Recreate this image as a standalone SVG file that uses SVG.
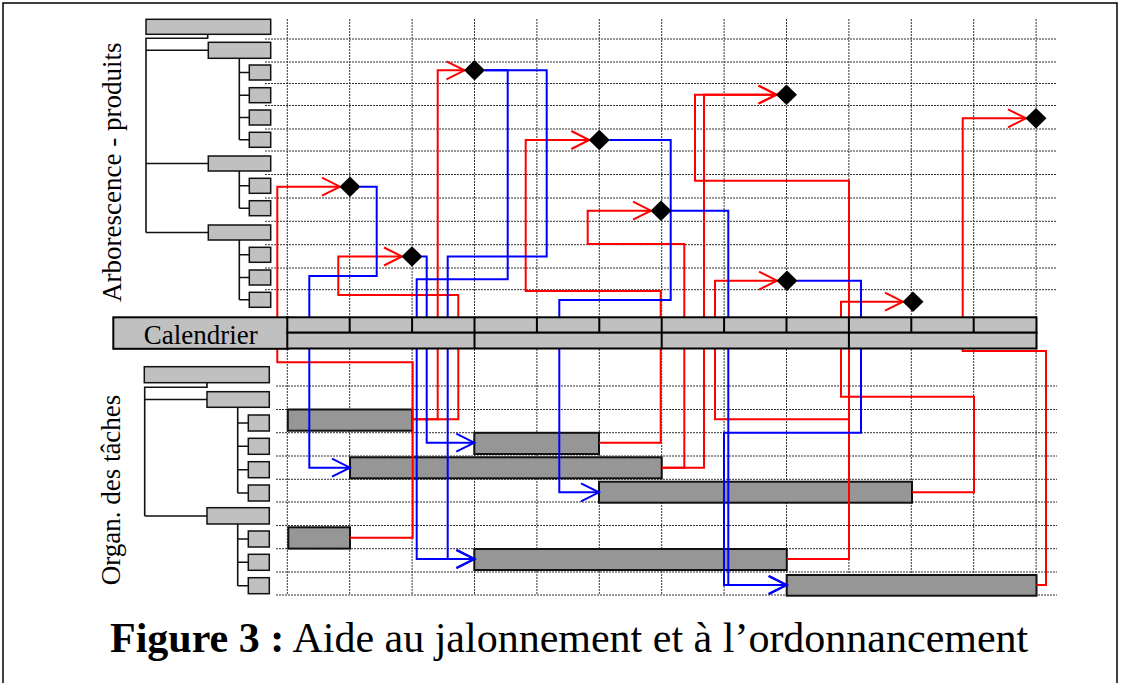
<svg xmlns="http://www.w3.org/2000/svg" width="1121" height="683" viewBox="0 0 1121 683">
<style>
.grid{stroke:#333;stroke-width:1;stroke-dasharray:2 1;fill:none}
.box{fill:#c0c0c0;stroke:#111;stroke-width:1.5}
.bar{fill:#969696;stroke:#111;stroke-width:2}
.tree{stroke:#111;stroke-width:1.6;fill:none}
.red{stroke:#ff0000;stroke-width:2;fill:none;marker-end:url(#ar)}
.blue{stroke:#0000ff;stroke-width:2;fill:none;marker-end:url(#ab)}
.dia{fill:#000}
.cal{fill:#c0c0c0;stroke:#000;stroke-width:2}
.lbl{font-family:"Liberation Serif","Times New Roman",serif;font-size:27px;fill:#000}
</style>
<defs>
<marker id="ar" markerUnits="userSpaceOnUse" markerWidth="24" markerHeight="24" viewBox="-20 -12 24 24" refX="0" refY="0" orient="auto" overflow="visible">
<path d="M-18,-9 L0,0 L-18,9" fill="none" stroke="#ff0000" stroke-width="2"/>
</marker>
<marker id="ab" markerUnits="userSpaceOnUse" markerWidth="24" markerHeight="24" viewBox="-20 -12 24 24" refX="0" refY="0" orient="auto" overflow="visible">
<path d="M-18,-9 L0,0 L-18,9" fill="none" stroke="#0000ff" stroke-width="2"/>
</marker>
</defs>
<rect x="0" y="0" width="1121" height="683" fill="#fff"/>
<rect x="3" y="3" width="1114" height="700" fill="none" stroke="#000" stroke-width="1.5"/>

<g id="grid">
<path class="grid" d="M287.3,19V317M349.7,19V317M412.1,19V317M474.5,19V317M536.9,19V317M599.3,19V317M661.7,19V317M724.1,19V317M786.5,19V317M848.9,19V317M911.3,19V317M973.7,19V317M1036.1,19V317"/>
<path class="grid" d="M287.3,349V595M349.7,349V595M412.1,349V595M474.5,349V595M536.9,349V595M599.3,349V595M661.7,349V595M724.1,349V595M786.5,349V595M848.9,349V595M911.3,349V595M973.7,349V595M1036.1,349V595"/>
<path class="grid" d="M265,39H1057M265,62H1057M265,83.5H1057M265,105.5H1057M265,129H1057M265,151H1057M265,174.5H1057M265,198H1057M265,221.3H1057M265,244.7H1057M265,268H1057M265,289.7H1057"/>
<path class="grid" d="M276,386H1057M276,409.5H1057M276,432.7H1057M276,456H1057M276,479.3H1057M276,502H1057M276,525.5H1057M276,548.7H1057M276,572H1057M276,595H1057"/>
</g>

<g id="tree-top-links">
<path class="tree" d="M207.7,34.3V38.3H146V232.5M146,50.3H208.3M146,163.5H208.3M146,232.5H208.3"/>
<path class="tree" d="M239.3,58.3V139.8M239.3,72.5H249.3M239.3,95.2H249.3M239.3,117.5H249.3M239.3,139.8H249.3"/>
<path class="tree" d="M239.3,171V208.2M239.3,185.8H249.3M239.3,208.2H249.3"/>
<path class="tree" d="M239.3,240V299.8M239.3,254.8H249.3M239.3,277.5H249.3M239.3,299.8H249.3"/>
</g>
<g id="tree-top">
<rect id="p-root" class="box" x="146" y="19.3" width="124.7" height="15"/>
<rect id="p-a" class="box" x="208.3" y="42.3" width="62.4" height="16"/>
<rect id="p-a1" class="box" x="249.3" y="65" width="21.4" height="15"/>
<rect id="p-a2" class="box" x="249.3" y="87.7" width="21.4" height="15"/>
<rect id="p-a3" class="box" x="249.3" y="110" width="21.4" height="15"/>
<rect id="p-a4" class="box" x="249.3" y="132.3" width="21.4" height="15"/>
<rect id="p-b" class="box" x="208.3" y="156" width="62.4" height="15"/>
<rect id="p-b1" class="box" x="249.3" y="178.3" width="21.4" height="15"/>
<rect id="p-b2" class="box" x="249.3" y="200.7" width="21.4" height="15"/>
<rect id="p-c" class="box" x="208.3" y="225" width="62.4" height="15"/>
<rect id="p-c1" class="box" x="249.3" y="247.3" width="21.4" height="15"/>
<rect id="p-c2" class="box" x="249.3" y="270" width="21.4" height="15"/>
<rect id="p-c3" class="box" x="249.3" y="292.3" width="21.4" height="15"/>
</g>

<g id="tree-bottom-links">
<path class="tree" d="M207,382.7V387.3H144.7V516M144.7,399.5H207M144.7,516H207"/>
<path class="tree" d="M237.7,407.3V493M237.7,423H248.3M237.7,446.3H248.3M237.7,469.7H248.3M237.7,493H248.3"/>
<path class="tree" d="M237.7,524V585.7M237.7,539H248.3M237.7,562.3H248.3M237.7,585.7H248.3"/>
</g>
<g id="tree-bottom">
<rect id="t-root" class="box" x="144.3" y="366.7" width="125" height="16"/>
<rect id="t-a" class="box" x="207" y="391.7" width="62.3" height="15.6"/>
<rect id="t-a1" class="box" x="248.3" y="415" width="21" height="16"/>
<rect id="t-a2" class="box" x="248.3" y="438.3" width="21" height="16"/>
<rect id="t-a3" class="box" x="248.3" y="461.7" width="21" height="16"/>
<rect id="t-a4" class="box" x="248.3" y="485" width="21" height="16"/>
<rect id="t-b" class="box" x="207" y="507.7" width="62.3" height="16.3"/>
<rect id="t-b1" class="box" x="248.3" y="531" width="21" height="16"/>
<rect id="t-b2" class="box" x="248.3" y="554.3" width="21" height="16"/>
<rect id="t-b3" class="box" x="248.3" y="577.7" width="21" height="16"/>
</g>

<g id="tasks">
<rect id="bar1" class="bar" x="287.8" y="409.5" width="124.5" height="21.2"/>
<rect id="bar2" class="bar" x="474.3" y="432.8" width="124.7" height="21.2"/>
<rect id="bar3" class="bar" x="350" y="457.3" width="311.7" height="21"/>
<rect id="bar4" class="bar" x="599" y="481.7" width="313" height="21"/>
<rect id="bar5" class="bar" x="288.3" y="527.3" width="61.7" height="21.3"/>
<rect id="bar6" class="bar" x="474.3" y="549" width="312.5" height="21"/>
<rect id="bar7" class="bar" x="786.7" y="575" width="249.8" height="20.7"/>
</g>

<g id="connectors">
<path class="red" d="M350,537.7H412.7V362.3H277.3V186.7H340"/>
<path class="red" d="M412.3,419.3H437.7V70.3H464.5"/>
<path class="red" d="M412.3,419.3H458.3V295H338.3V256.5H402"/>
<path class="red" d="M599,442.7H660.7V291H525.7V140H589.3"/>
<path class="red" d="M662,467.7H684.3V244H587.7V210.7H651"/>
<path class="red" d="M662,467.7H704V94.7H776.5"/>
<path class="red" d="M787,559H849V180.7H695V94.7H776.5"/>
<path class="red" d="M787,559H849V419.3H715V280.7H777"/>
<path class="red" d="M912.3,492.3H974V396.7H841V301.7H903"/>
<path class="red" d="M1036.5,585H1046V351H962.7V118.3H1026"/>
<path class="blue" d="M360,186.7H376.7V276H309.3V467.7H350"/>
<path class="blue" d="M484.5,70.3H507.7V279.3H416.7V559H474.5"/>
<path class="blue" d="M484.5,70.3H546.7V256.5H447.7V559H474.5"/>
<path class="blue" d="M422,256.5H426.7V442.7H474.3"/>
<path class="blue" d="M609.3,140H670.7V300H559.3V492.3H599"/>
<path class="blue" d="M671,210.7H728.3V585H786.7"/>
<path class="blue" d="M797,280.7H861V432.7H724V585H786.7"/>
</g>

<g id="milestones">
<path id="d1" class="dia" d="M474.5,60L485,70.3L474.5,80.6L464,70.3Z"/>
<path id="d2" class="dia" d="M599.3,129.7L609.8,140L599.3,150.3L588.8,140Z"/>
<path id="d3" class="dia" d="M786.5,84.4L797,94.7L786.5,105L776,94.7Z"/>
<path id="d4" class="dia" d="M1036,108L1046.5,118.3L1036,128.6L1025.5,118.3Z"/>
<path id="d5" class="dia" d="M350,176.4L360.5,186.7L350,197L339.5,186.7Z"/>
<path id="d6" class="dia" d="M412,246.2L422.5,256.5L412,266.8L401.5,256.5Z"/>
<path id="d7" class="dia" d="M661,200.4L671.5,210.7L661,221L650.5,210.7Z"/>
<path id="d8" class="dia" d="M787,270.4L797.5,280.7L787,291L776.5,280.7Z"/>
<path id="d9" class="dia" d="M913,291.4L923.5,301.7L913,312L902.5,301.7Z"/>
</g>

<g id="calendar">
<rect class="cal" x="113.3" y="317.3" width="175" height="31.5"/>
<text class="lbl" x="200.8" y="343.5" text-anchor="middle">Calendrier</text>
<rect class="cal" x="287.3" y="317.3" width="749.2" height="15.4"/>
<rect class="cal" x="287.3" y="332.7" width="749.2" height="15.8"/>
<path d="M349.7,317.3V332.7M412.1,317.3V332.7M474.5,317.3V348.5M536.9,317.3V332.7M599.3,317.3V332.7M661.7,317.3V348.5M724.1,317.3V332.7M786.5,317.3V332.7M848.9,317.3V348.5M911.3,317.3V332.7M973.7,317.3V332.7" stroke="#000" stroke-width="2" fill="none"/>
</g>

<g id="labels">
<text class="lbl" transform="translate(121,172.3) rotate(-90)" text-anchor="middle">Arborescence - produits</text>
<text class="lbl" transform="translate(119.5,490) rotate(-90)" text-anchor="middle">Organ. des tâches</text>
<text x="110" y="652" font-family="'Liberation Serif','Times New Roman',serif" font-size="42" fill="#000"><tspan font-weight="bold">Figure 3 :</tspan> Aide au jalonnement et à l’ordonnancement</text>
</g>
</svg>
